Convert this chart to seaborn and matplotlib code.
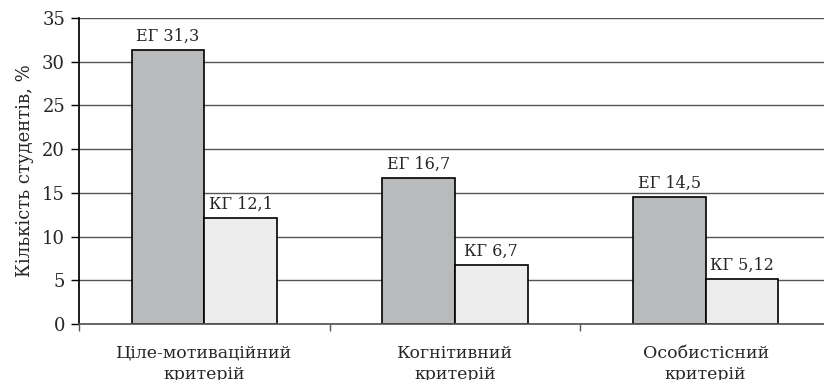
import matplotlib
matplotlib.use("Agg")
import matplotlib.pyplot as plt
import seaborn as sns
import pandas as pd
from matplotlib.ticker import FixedLocator

categories = ["Ціле-мотиваційний\nкритерій", "Когнітивний\nкритерій", "Особистісний\nкритерій"]
groups = ["ЕГ", "КГ"]
eg_values = [31.3, 16.7, 14.5]
kg_values = [12.1, 6.7, 5.12]
y_ticks = [0, 5, 10, 15, 20, 25, 30, 35]
y_label = "Кількість студентів, %"

sns.set_theme(style="white")
plt.rcParams["font.family"] = ["DejaVu Serif", "Liberation Serif"]

rows = []
for c, e, k in zip(categories, eg_values, kg_values):
    rows.append({"cat": c, "grp": "ЕГ", "val": e})
    rows.append({"cat": c, "grp": "КГ", "val": k})
df = pd.DataFrame(rows)

fig = plt.figure(figsize=(8.24, 3.8), dpi=100)
ax = fig.add_axes([79 / 824, 56 / 380, 752 / 824, 306 / 380])
ax.set_axisbelow(True)
sns.barplot(data=df, x="cat", y="val", hue="grp", hue_order=groups,
            palette=["#b8babb", "#ecedec"], width=0.58, edgecolor="black",
            linewidth=1.2, ax=ax, legend=False)

ax.set_ylim(0, 35)
ax.set_xlim(-0.5, 2.5)
ax.set_yticks(y_ticks)
ax.yaxis.grid(True, color="#555555", linewidth=1)
ax.tick_params(axis="y", direction="out", length=6, width=1, color="black",
               labelsize=13, pad=4, left=True)
ax.set_ylabel(y_label, fontsize=13, labelpad=6)
ax.set_xlabel("")

ax.xaxis.set_major_locator(FixedLocator([-0.5, 0.5, 1.5, 2.5]))
ax.set_xticklabels([])
ax.xaxis.set_minor_locator(FixedLocator([0, 1, 2]))
ax.set_xticklabels(categories, minor=True, fontsize=12.5, linespacing=1.3)
ax.tick_params(axis="x", which="major", direction="out", length=5, width=1,
               color="#555555", bottom=True)
ax.tick_params(axis="x", which="minor", length=0, pad=15)

for s in ["top", "right"]:
    ax.spines[s].set_visible(False)
ax.spines["left"].set_color("black")
ax.spines["bottom"].set_color("#555555")

for cont, grp in zip(ax.containers, groups):
    labels = [f"{grp} {v}".replace(".", ",") for v in (eg_values if grp == "ЕГ" else kg_values)]
    ax.bar_label(cont, labels=labels, fontsize=11.5, padding=4)

fig.savefig("out.png", dpi=100)
